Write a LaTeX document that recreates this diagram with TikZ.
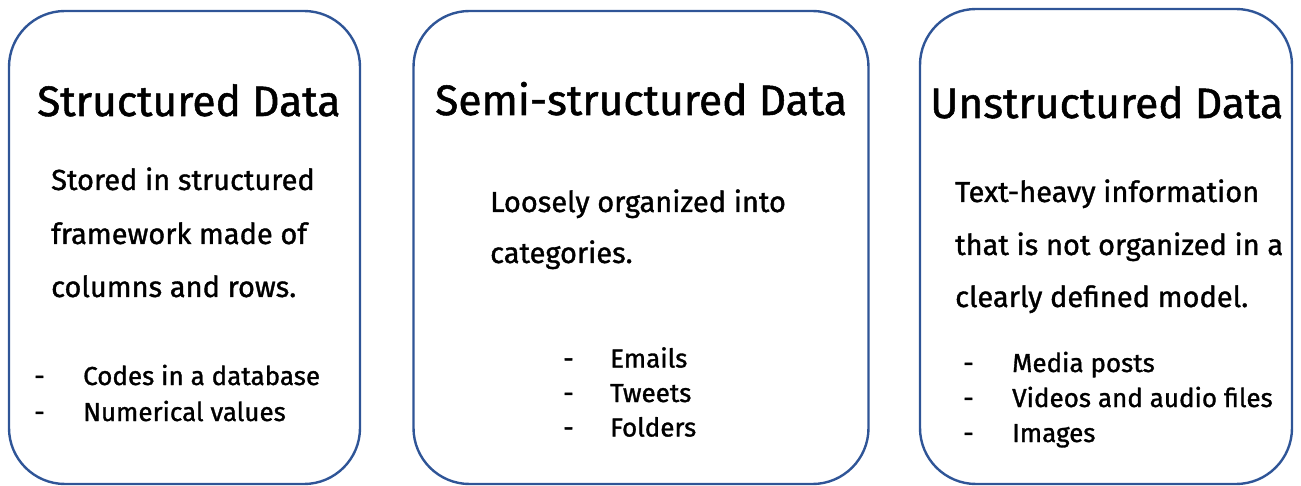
\documentclass[tikz,border=0pt]{standalone}
\usepackage{fontspec}
\setmainfont{Fira Sans}[FakeBold=1.2]
\usetikzlibrary{positioning}
\definecolor{boxblue}{HTML}{2F5597}

\begin{document}
\begin{tikzpicture}[x=1pt, y=-1pt,
	databox/.style={draw=boxblue, line width=2.4pt, rounded corners=56pt, inner sep=0pt},
	titletext/.style={anchor=base west, inner sep=0pt, font=\fontsize{42.5}{50}\selectfont},
	bodytext/.style={anchor=base west, inner sep=0pt, font=\fontsize{29}{34}\selectfont},
	itemtext/.style={anchor=base west, inner sep=0pt, font=\fontsize{26}{30}\selectfont}]
	\useasboundingbox (0,0) rectangle (1301,486);
	
	% the three boxes
	\node[databox, minimum width=351pt, minimum height=473pt] (sbox) at (184.5,247.5) {};
	\node[databox, minimum width=455pt, minimum height=473pt] (mbox) at (641,247.5) {};
	\node[databox, minimum width=372pt, minimum height=475pt] (ubox) at (1106,246.5) {};
	
	% titles
	\node[titletext] (stitle) at (37,116) {Structured Data};
	\node[titletext] (mtitle) at (435,115) {Semi-structured Data};
	\node[titletext] (utitle) at (930,118) {Unstructured Data};
	
	% structured data
	\node[bodytext] (sline1) at (51,190) {Stored in structured};
	\node[bodytext] (sline2) at (51,244) {framework made of};
	\node[bodytext] (sline3) at (51,297) {columns and rows.};
	\foreach \t [count=\i] in {Codes in a database, Numerical values} {
		\node[itemtext] (sdash\i) at (34,349+36*\i) {-};
		\node[itemtext] (sitem\i) at (83,349+36*\i) {\t};
	}
	
	% semi-structured data
	\node[bodytext] (mline1) at (490,212) {Loosely organized into};
	\node[bodytext] (mline2) at (490,263) {categories.};
	\foreach \t [count=\i] in {Emails, Tweets, Folders} {
		\node[itemtext] (mdash\i) at (563,333+34.5*\i) {-};
		\node[itemtext] (mitem\i) at (610,333+34.5*\i) {\t};
	}
	
	% unstructured data
	\node[bodytext] (uline1) at (955,202) {Text-heavy information};
	\node[bodytext] (uline2) at (955,255) {that is not organized in a};
	\node[bodytext] (uline3) at (955,307) {clearly defined model.};
	\foreach \t [count=\i] in {Media posts, Videos and audio files, Images} {
		\node[itemtext] (udash\i) at (963,337+35*\i) {-};
		\node[itemtext] (uitem\i) at (1012,337+35*\i) {\t};
	}
\end{tikzpicture}
\end{document}
